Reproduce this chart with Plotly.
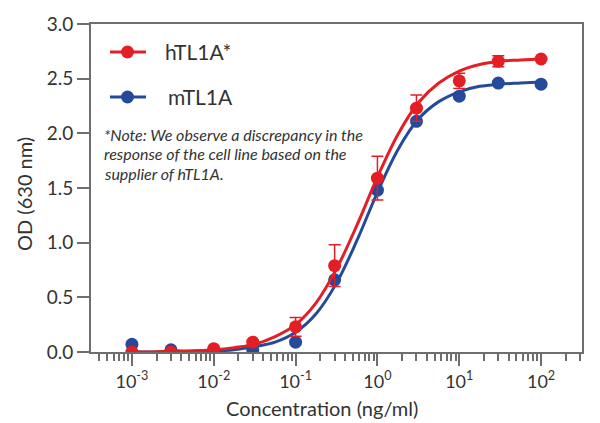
import plotly.graph_objects as go

# ---- data ----
conc = [0.001, 0.003, 0.01, 0.03, 0.1, 0.3, 1, 3, 10, 30, 100]
h_od = [0.00, 0.00, 0.03, 0.09, 0.23, 0.79, 1.59, 2.23, 2.48, 2.66, 2.68]
h_err = [0.0, 0.0, 0.0, 0.02, 0.085, 0.19, 0.20, 0.12, 0.07, 0.05, 0.0]
m_od = [0.07, 0.02, 0.02, 0.02, 0.09, 0.66, 1.48, 2.11, 2.34, 2.46, 2.45]

# fitted curves as drawn (sampled every quarter decade)
curve_conc = [0.001, 0.00178, 0.00316, 0.00562, 0.01, 0.0178, 0.0316, 0.0562,
              0.1, 0.178, 0.316, 0.562, 1, 1.78, 3.16, 5.62, 10, 17.8, 31.6, 56.2, 100]
h_curve = [0.00, 0.00, 0.01, 0.01, 0.02, 0.04, 0.07, 0.14, 0.25, 0.45, 0.76, 1.16,
           1.60, 1.99, 2.28, 2.46, 2.57, 2.63, 2.66, 2.67, 2.68]
m_curve = [0.00, 0.00, 0.00, 0.01, 0.01, 0.02, 0.05, 0.09, 0.18, 0.35, 0.63, 1.02,
           1.46, 1.85, 2.13, 2.29, 2.38, 2.43, 2.45, 2.46, 2.47]

major_ticks = [0.001, 0.01, 0.1, 1, 10, 100]
major_text = ["10<sup>-3</sup>", "10<sup>-2</sup>", "10<sup>-1</sup>",
              "10<sup>0</sup>", "10<sup>1</sup>", "10<sup>2</sup>"]
minor_ticks = [m * 10.0 ** e for e in range(-4, 3) for m in range(2, 10)]
y_ticks = [0.0, 0.5, 1.0, 1.5, 2.0, 2.5, 3.0]
note_lines = ["*Note: We observe a discrepancy in the",
              "response of the cell line based on the",
              "supplier of hTL1A."]

RED = "#E41E25"
BLUE = "#244A9C"
GRAY = "#6E6E6E"
TXT = "#333333"
FONT = "Lato"

W, H = 600, 423
L, R, T, B = 91, 18, 24, 71
PW, PH = W - L - R, H - T - B


def px(x):
    return (x - L) / PW


def py(y):
    return (H - B - y) / PH


fig = go.Figure()

fig.add_trace(go.Scatter(x=curve_conc, y=m_curve, mode="lines", line=dict(color=BLUE, width=3, shape="spline"),
                         hoverinfo="skip", showlegend=False))
fig.add_trace(go.Scatter(x=conc, y=m_od, mode="markers", marker=dict(color=BLUE, size=13),
                         showlegend=False, name="mTL1A"))
fig.add_trace(go.Scatter(x=curve_conc, y=h_curve, mode="lines", line=dict(color=RED, width=3, shape="spline"),
                         hoverinfo="skip", showlegend=False))
fig.add_trace(go.Scatter(x=conc, y=h_od, mode="markers", marker=dict(color=RED, size=13),
                         error_y=dict(type="data", array=h_err, visible=True, color=RED, thickness=1.5, width=6),
                         showlegend=False, name="hTL1A*"))

fig.update_layout(
    width=W, height=H,
    margin=dict(l=L, r=R, t=T, b=B, autoexpand=False),
    paper_bgcolor="white", plot_bgcolor="white",
    font=dict(family=FONT, color=TXT),
    xaxis=dict(type="log", range=[-3.5, 2.5], showgrid=False, zeroline=False, automargin=False,
               showline=True, linecolor=GRAY, linewidth=2, mirror=True,
               tickmode="array", tickvals=major_ticks, ticktext=major_text,
               ticks="outside", ticklen=12, tickwidth=1.5, tickcolor=GRAY,
               tickfont=dict(size=18, color=TXT, family=FONT),
               minor=dict(tickmode="array", tickvals=minor_ticks, ticks="outside",
                          ticklen=7, tickwidth=1.5, tickcolor=GRAY, showgrid=False)),
    yaxis=dict(range=[0, 3], showgrid=False, zeroline=False, automargin=False,
               showline=True, linecolor=GRAY, linewidth=2, mirror=True,
               tickmode="array", tickvals=y_ticks, tickformat=".1f",
               ticks="outside", ticklen=12, tickwidth=1.5, tickcolor=GRAY,
               tickfont=dict(size=19, color=TXT, family=FONT)),
)

# axis titles
fig.add_annotation(x=px(321.5), y=py(408), xref="paper", yref="paper", text="Concentration (ng/ml)",
                   showarrow=False, xanchor="center", yanchor="middle",
                   font=dict(size=20, color=TXT, family=FONT))
fig.add_annotation(x=px(24), y=py(194), xref="paper", yref="paper", text="OD (630 nm)", textangle=-90,
                   showarrow=False, xanchor="center", yanchor="middle",
                   font=dict(size=20, color=TXT, family=FONT))

# legend drawn manually
for color, ypix, label, xtext in [(RED, 52, "hTL1A*", 163), (BLUE, 97, "mTL1A", 166)]:
    fig.add_shape(type="line", xref="paper", yref="paper", x0=px(110), x1=px(146), y0=py(ypix), y1=py(ypix),
                  line=dict(color=color, width=3))
    fig.add_shape(type="circle", xref="paper", yref="paper", xsizemode="pixel", ysizemode="pixel",
                  xanchor=px(127.5), yanchor=py(ypix), x0=-6.5, x1=6.5, y0=-6.5, y1=6.5,
                  fillcolor=color, line=dict(color=color, width=0))
    fig.add_annotation(x=px(xtext), y=py(ypix), xref="paper", yref="paper", text=label, showarrow=False,
                       xanchor="left", yanchor="middle", font=dict(size=21, color=TXT, family=FONT))

# note
for i, line in enumerate(note_lines):
    fig.add_annotation(x=px(102), y=py(134 + 19.5 * i), xref="paper", yref="paper",
                       text="<i>" + line + "</i>", showarrow=False, xanchor="left", yanchor="middle",
                       font=dict(size=16, color=TXT, family=FONT))

fig.write_html("out.html", config={"displayModeBar": False},
               post_script="document.body.style.margin='0';document.body.style.padding='0';")
